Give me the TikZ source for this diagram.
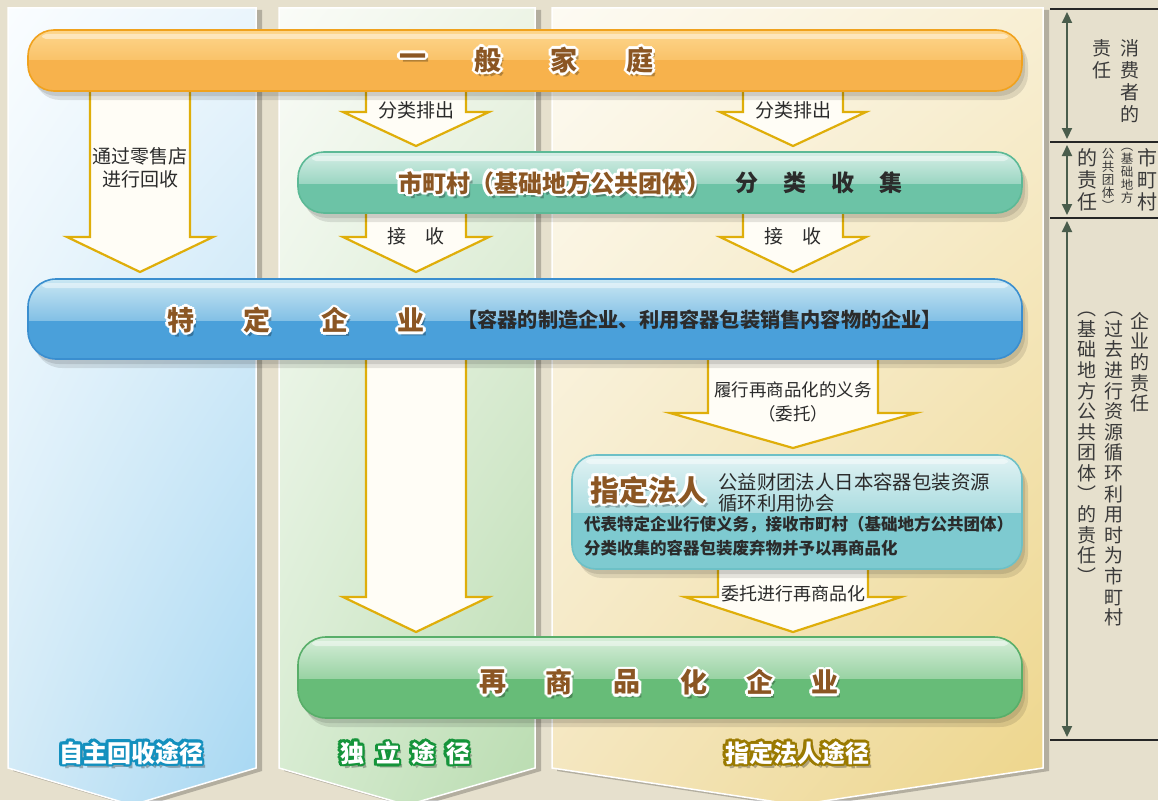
\documentclass[tikz,border=0pt]{standalone}
\usepackage{fontspec}
\setmainfont{Noto Sans CJK SC}
\usetikzlibrary{calc,arrows.meta,shadings}
\definecolor{bg}{HTML}{E6E0CD}
\definecolor{brn}{HTML}{8B5623}
\definecolor{gold}{HTML}{DFAE0A}
\definecolor{afill}{HTML}{FFFDF6}
\definecolor{ink}{HTML}{2B2B2B}
\definecolor{vink}{HTML}{3A3A3A}
\definecolor{varr}{HTML}{4A5D4C}
\definecolor{obl}{HTML}{1390BE}
\definecolor{ogr}{HTML}{15943A}
\definecolor{ool}{HTML}{9A7A00}
% columns
\definecolor{cLul}{HTML}{FAFDFF}
\definecolor{cLur}{HTML}{EAF5FC}
\definecolor{cLll}{HTML}{D2EAF7}
\definecolor{cLlr}{HTML}{A6D7F2}
\definecolor{cMul}{HTML}{FAFCF8}
\definecolor{cMur}{HTML}{EDF4E6}
\definecolor{cMll}{HTML}{D6EBD0}
\definecolor{cMlr}{HTML}{B9DCB0}
\definecolor{cRul}{HTML}{FDFBF3}
\definecolor{cRur}{HTML}{F8EFD4}
\definecolor{cRll}{HTML}{F4E6BE}
\definecolor{cRlr}{HTML}{EDD58A}
% bars
\definecolor{orL}{HTML}{FDD68C}
\definecolor{orD}{HTML}{F7B24C}
\definecolor{orB}{HTML}{F0A21E}
\definecolor{tlL}{HTML}{D6EEE6}
\definecolor{tlD}{HTML}{6CC3A6}
\definecolor{tlB}{HTML}{5CB996}
\definecolor{blL}{HTML}{C9E7F3}
\definecolor{blD}{HTML}{4AA0DA}
\definecolor{blB}{HTML}{3A8ECF}
\definecolor{cyL}{HTML}{E2F3F4}
\definecolor{cyD}{HTML}{7ECAD0}
\definecolor{cyB}{HTML}{6DC0C6}
\definecolor{gnL}{HTML}{D7EED9}
\definecolor{gnD}{HTML}{67BC78}
\definecolor{gnB}{HTML}{58AE69}
\newcommand\fs[1]{\fontsize{#1}{#1}\selectfont}
% outlined label: name, coord, size, fill, outline, text
\newcommand\olab[6]{%
  \node[font=\bfseries\fs{#3}, text=black, opacity=0.28, inner sep=0] at ($(#2)+(3,4)$) {#6};
  \foreach \ang in {0,30,...,330}{\node[font=\bfseries\fs{#3}, text=#5, inner sep=0] at ($(#2)+(\ang:2.6pt)$) {#6};}
  \node[font=\bfseries\fs{#3}, text=#4, inner sep=0] (#1) at (#2) {#6};}
% pill bar: x1,y1,x2,y2,light,dark,border,radius,ymid
\newcommand\pill[9]{%
  \fill[black,opacity=.10,rounded corners=#8] ({#1+3},{#2+5}) rectangle ({#3+3},{#4+5});
  \fill[black,opacity=.10,rounded corners=#8] ({#1+6},{#2+9}) rectangle ({#3+6},{#4+9});
  \begin{scope}
    \clip[rounded corners=#8] (#1,#2) rectangle (#3,#4);
    \fill[#6] (#1,#2) rectangle (#3,#4);
    \shade[top color=#5, bottom color=#6!55!#5] (#1,#2) rectangle (#3,#9);
    \fill[white,opacity=.45,rounded corners=4] ({#1+14},{#2+4}) rectangle ({#3-14},{#2+9});
  \end{scope}
  \draw[#7,line width=1.6,rounded corners=#8] (#1,#2) rectangle (#3,#4);}
% block arrow: cx, ytop, shaft half, wing half, ywing, ytip
\newcommand\barrow[6]{%
  \draw[gold,fill=afill,line width=2.2,line join=miter]
    ({#1-#3},#2) -- ({#1-#3},#5) -- ({#1-#4},#5) -- (#1,#6) -- ({#1+#4},#5) -- ({#1+#3},#5) -- ({#1+#3},#2);}
\tikzset{
  alab/.style={font=\fs{19}, text=ink, inner sep=0, align=center},
  vtx/.style={text=vink, inner sep=0, align=center, anchor=north},
  darr/.style={varr, line width=2, {Triangle[width=10pt,length=11pt]}-{Triangle[width=10pt,length=11pt]}}
}
\begin{document}
\begin{tikzpicture}[x=1pt,y=-1pt]
\useasboundingbox (0,0) rectangle (1158,800);
\fill[bg] (0,0) rectangle (1158,800);
\begin{scope}
\clip (0,0) rectangle (1158,800);
% column shadows
\fill[black,opacity=.22] (13,10) -- (262,10) -- (262,771) -- (138,808) -- (13,771) -- cycle;
\fill[black,opacity=.22] (284,10) -- (541,10) -- (541,771) -- (413,808) -- (284,771) -- cycle;
\fill[black,opacity=.22] (557,10) -- (1049,10) -- (1049,771) -- (803,808) -- (557,771) -- cycle;
% columns
\shade[upper left=cLul, upper right=cLur, lower left=cLll, lower right=cLlr]
  (8,8) -- (256,8) -- (256,768) -- (132,805) -- (8,768) -- cycle;
\shade[upper left=cMul, upper right=cMur, lower left=cMll, lower right=cMlr]
  (279,8) -- (535,8) -- (535,768) -- (407,805) -- (279,768) -- cycle;
\shade[upper left=cRul, upper right=cRur, lower left=cRll, lower right=cRlr]
  (552,8) -- (1043,8) -- (1043,768) -- (797,805) -- (552,768) -- cycle;
\draw[white,line width=1.5] (8,8) -- (256,8) -- (256,768) -- (132,805) -- (8,768) -- cycle;
\draw[white,line width=1.5] (279,8) -- (535,8) -- (535,768) -- (407,805) -- (279,768) -- cycle;
\draw[white,line width=1.5] (552,8) -- (1043,8) -- (1043,768) -- (797,805) -- (552,768) -- cycle;
\end{scope}

% block arrows
\barrow{140}{60}{50}{73}{237}{272}
\barrow{416}{60}{50}{73}{112}{146}
\barrow{793}{60}{50}{73}{112}{146}
\barrow{416}{183}{50}{73}{237}{272}
\barrow{793}{183}{50}{73}{237}{272}
\barrow{416}{320}{50}{73}{597}{632}
\barrow{793}{320}{85}{123}{413}{448}
\barrow{793}{510}{75}{108}{597}{632}

% arrow labels
\node[alab] (tA) at (140,168) {通过零售店\\[4pt]进行回收};
\node[alab] (tB) at (416,110) {分类排出};
\node[alab] (tC) at (793,110) {分类排出};
\node[alab] (tD) at (416,236) {接　收};
\node[alab] (tE) at (793,236) {接　收};
\node[alab, font=\fs{17.5}] (tF) at (793,402) {履行再商品化的义务\\[6pt]（委托）};
\node[alab, font=\fs{18}] (tG) at (793,594) {委托进行再商品化};

% bars
\pill{28}{30}{1022}{91}{orL}{orD}{orB}{26}{60}
\pill{298}{152}{1022}{213}{tlL}{tlD}{tlB}{26}{183}
\pill{28}{279}{1022}{359}{blL}{blD}{blB}{28}{320}
\pill{572}{455}{1022}{569}{cyL}{cyD}{cyB}{24}{512}
\pill{298}{637}{1022}{718}{gnL}{gnD}{gnB}{28}{678}

% bar texts
\foreach \c/\x [count=\i] in {一/413,般/488,家/564,庭/640}{\olab{hh\i}{\x,60}{27}{brn}{white}{\c}}
\olab{city}{554,183}{24}{brn}{white}{市町村（基础地方公共团体）}
\foreach \c/\x [count=\i] in {分/747,类/795,收/843,集/891}{\node[font=\bfseries\fs{23}, text=ink, inner sep=0] (sc\i) at (\x,183) {\c};}
\foreach \c/\x [count=\i] in {特/181,定/257,企/335,业/411}{\olab{tq\i}{\x,320}{27}{brn}{white}{\c}}
\node[font=\bfseries\fs{20.2}, text=ink, inner sep=0, anchor=west] (tqd) at (457,320) {【容器的制造企业、利用容器包装销售内容物的企业】};
\olab{zd}{648,490}{29}{brn}{white}{指定法人}
\node[font=\fs{19.4}, text=ink, inner sep=0, anchor=west] (zd1) at (718,482) {公益财团法人日本容器包装资源};
\node[font=\fs{19.4}, text=ink, inner sep=0, anchor=west] (zd2) at (718,503) {循环利用协会};
\node[font=\bfseries\fs{16.5}, text=ink, inner sep=0, anchor=west] (zd3) at (584,525) {代表特定企业行使义务，接收市町村（基础地方公共团体）};
\node[font=\bfseries\fs{16.5}, text=ink, inner sep=0, anchor=west] (zd4) at (584,548) {分类收集的容器包装废弃物并予以再商品化};
\foreach \c/\x [count=\i] in {再/493,商/559,品/627,化/694,企/760,业/825}{\olab{rc\i}{\x,682}{27}{brn}{white}{\c}}

% bottom labels
\olab{lb1}{131,753}{24}{white}{obl}{自主回收途径}
\foreach \c/\x [count=\i] in {独/352,立/388,途/423,径/458}{\olab{lb2\i}{\x,753}{24}{white}{ogr}{\c}}
\olab{lb3}{797,753}{24}{white}{ool}{指定法人途径}

% right-side responsibility scale
\foreach \y [count=\i] in {9,142,218,740}{\coordinate (hl\i) at (1050,\y); \coordinate (hr\i) at (1158,\y); \draw[black!85,line width=1.5] (hl\i) -- (hr\i);}
\coordinate (a1t) at (1067,12); \coordinate (a1b) at (1067,139);
\coordinate (a2t) at (1067,145); \coordinate (a2b) at (1067,215);
\coordinate (a3t) at (1067,221); \coordinate (a3b) at (1067,737);
\draw[darr] (a1t) -- (a1b);
\draw[darr] (a2t) -- (a2b);
\draw[darr] (a3t) -- (a3b);

\node[vtx, font=\fontsize{19}{22}\selectfont] (v11) at (1130,39) {消\\费\\者\\的};
\node[vtx, font=\fontsize{19}{22}\selectfont] (v12) at (1102,39) {责\\任};
\node[vtx, font=\fontsize{20}{22}\selectfont] (v21) at (1147,148) {市\\町\\村};
\node[vtx, font=\fontsize{12.5}{13}\selectfont] (v22) at (1127,148) {︵\\基\\础\\地\\方};
\node[vtx, font=\fontsize{12.5}{13}\selectfont] (v23) at (1108,148) {公\\共\\团\\体\\︶};
\node[vtx, font=\fontsize{20}{22}\selectfont] (v24) at (1087,148) {的\\责\\任};
\node[vtx, font=\fontsize{19}{20.6}\selectfont] (v31) at (1140,312) {企\\业\\的\\责\\任};
\node[vtx, font=\fontsize{19}{20.6}\selectfont] (v32) at (1114,312) {︵\\过\\去\\进\\行\\资\\源\\循\\环\\利\\用\\时\\为\\市\\町\\村};
\node[vtx, font=\fontsize{19}{20.6}\selectfont] (v33) at (1087,312) {︵\\基\\础\\地\\方\\公\\共\\团\\体\\︶\\的\\责\\任\\︶};
\end{tikzpicture}
\end{document}
